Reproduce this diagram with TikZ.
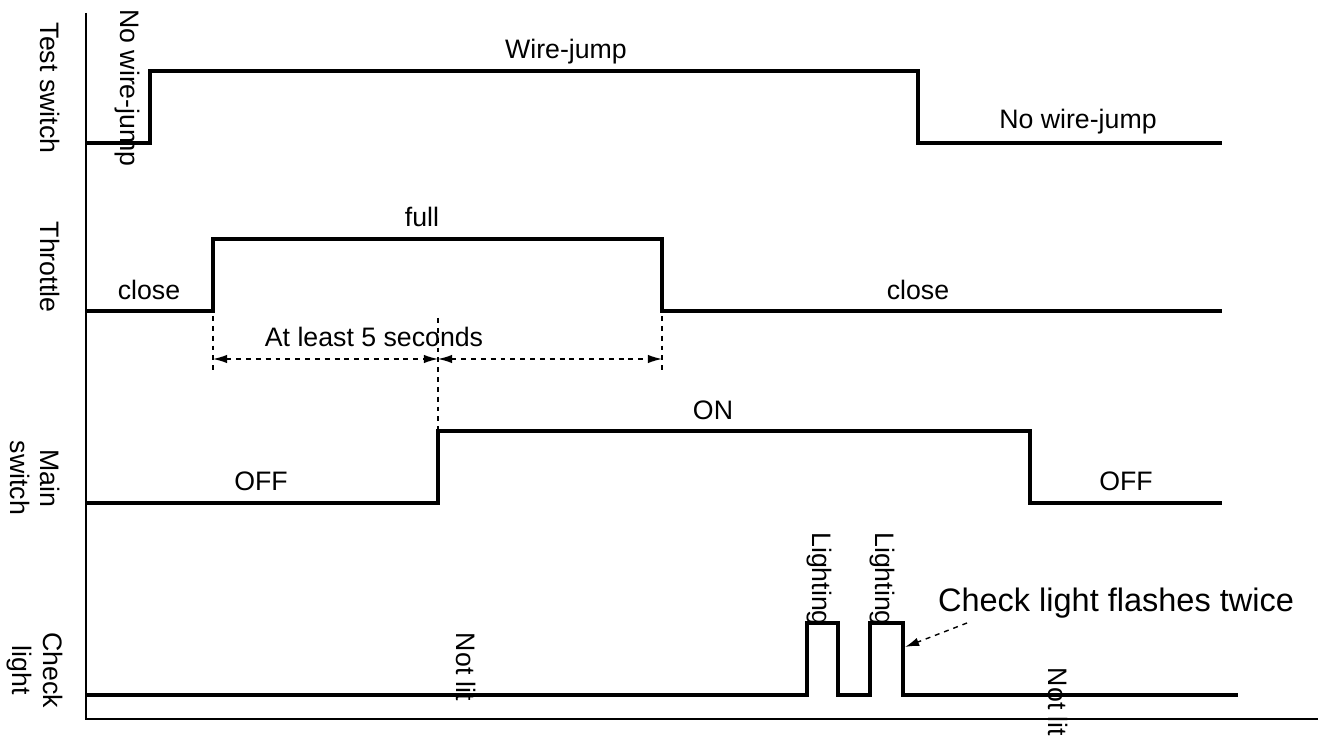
\documentclass[tikz,border=0pt]{standalone}
\usepackage{fontspec}
\setmainfont{Liberation Sans}
\usetikzlibrary{arrows.meta, positioning}

\begin{document}
\begin{tikzpicture}[
      x=0.02cm, y=-0.02cm,
      every node/.style={font=\fontsize{15.2}{17.5}\selectfont, inner sep=0pt},
      signal/.style={line width=2.2pt, line join=miter},
      axis/.style={line width=1.2pt},
      marker/.style={line width=0.8pt, dash pattern=on 2.8pt off 2.8pt},
      span/.style={marker, {Latex[length=8pt,width=4.8pt]}-{Latex[length=8pt,width=4.8pt]}},
      vlabel/.style={rotate=-90, align=center}
    ]
      \useasboundingbox (0,0) rectangle (1325,736);

      \coordinate (top) at (86,13);
      \coordinate (origin) at (86,719);
      \coordinate (end) at (1318,719);
      \draw[axis] (top) -- (origin) -- (end);

      \coordinate (thup) at (213,311);
      \coordinate (thdown) at (662,311);
      \coordinate (msup) at (438,503);

      \draw[signal] (86,143) -- (150,143) -- (150,71) -- (918,71) -- (918,143) -- (1222,143);
      \draw[signal] (86,311) -- (thup) -- (213,239) -- (662,239) -- (thdown) -- (1222,311);
      \draw[signal] (86,503) -- (msup) -- (438,431) -- (1030,431) -- (1030,503) -- (1222,503);
      \draw[signal] (86,695) -- (807,695) -- (807,623) -- (838,623) -- (838,695)
        -- (870,695) -- (870,623) -- (903,623) -- (903,695) -- (1238,695);

      \coordinate (mk1) at (213,359);
      \coordinate (mk2) at (438,359);
      \coordinate (mk3) at (662,359);
      \draw[marker] (213,316) -- (213,373);
      \draw[marker] (662,316) -- (662,373);
      \draw[marker] (438,318) -- (438,431);
      \draw[span] (mk1) -- (mk2);
      \draw[span] (mk2) -- (mk3);

      \node[vlabel] (lts) at (50,88) {Test switch};
      \node[vlabel] (lth) at (50,267) {Throttle};
      \node[vlabel] (lms) at (35,478) {Main\\switch};
      \node[vlabel] (lcl) at (35,670) {Check\\light};

      \node[vlabel] (nwj1) at (127,88) {No wire-jump};
      \node (wj) at (566,52) {Wire-jump};
      \node (nwj2) at (1078,122) {No wire-jump};

      \node (cl1) at (149,290) {close};
      \node (full) at (422,217) {full};
      \node (cl2) at (918,290) {close};
      \node (five) at (374,337) {At least 5 seconds};

      \node (off1) at (261,481) {OFF};
      \node (on) at (713,410) {ON};
      \node (off2) at (1126,481) {OFF};

      \node[vlabel] (nl1) at (466,667) {Not lit};
      \node[vlabel] (lt1) at (819,579) {Lighting};
      \node[vlabel] (lt2) at (882,579) {Lighting};
      \node[vlabel] (nl2) at (1058,702) {Not lit};

      \node[font=\fontsize{18.5}{21}\selectfont] (twice) at (1116,603) {Check light flashes twice};
      \coordinate (tw) at (967,623);
      \coordinate (pulse) at (905,647);
      \draw[marker, -{Latex[length=8pt,width=4.8pt]}] (tw) -- (pulse);
    \end{tikzpicture}
\end{document}
